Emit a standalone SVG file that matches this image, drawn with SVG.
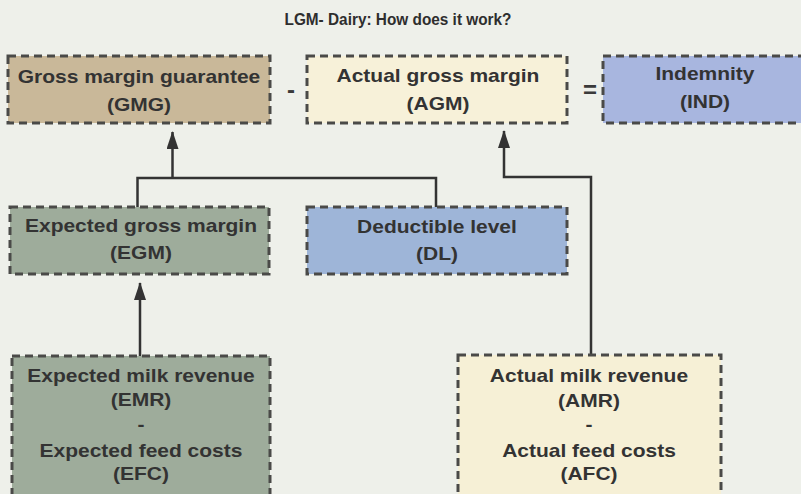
<svg xmlns="http://www.w3.org/2000/svg" width="801" height="494" viewBox="0 0 801 494">
<style>
.bg{fill:#eef0ea}
.box{stroke:#4a4a48;stroke-width:3;stroke-dasharray:8 5}
.t{font-family:"Liberation Sans",Arial,Helvetica,sans-serif;font-weight:bold;font-size:17.5px;fill:#333;text-anchor:middle;transform-box:fill-box;transform-origin:center;transform:scaleX(1.2)}
.op{font-family:"Liberation Sans",Arial,sans-serif;font-weight:bold;font-size:24px;fill:#3a3a3a;text-anchor:middle}
.title{font-family:"Liberation Sans",Arial,sans-serif;font-weight:bold;font-size:17px;fill:#2e2e2e;text-anchor:middle}
.con{fill:none;stroke:#333;stroke-width:2.5}
</style>
<defs>
<marker id="ah" viewBox="0 0 18 12" refX="17" refY="6" markerUnits="userSpaceOnUse" markerWidth="18" markerHeight="12" orient="auto">
<path d="M0,0 L18,6 L0,12 Z" fill="#333"/>
</marker>
</defs>
<rect class="bg" x="0" y="0" width="801" height="494"/>
<text class="title" x="398" y="25" textLength="227" lengthAdjust="spacingAndGlyphs">LGM- Dairy: How does it work?</text>

<g id="connectors">
<polyline class="con" points="137.5,207 137.5,178 436,178 436,207"/>
<line class="con" x1="172.5" y1="178" x2="172.5" y2="132" marker-end="url(#ah)"/>
<polyline class="con" points="591,355 591,177 504,177 504,131" marker-end="url(#ah)"/>
<line class="con" x1="140" y1="356" x2="140" y2="283" marker-end="url(#ah)"/>
</g>

<g id="gmg">
<rect class="box" x="8" y="56" width="262" height="67" fill="#c9b899"/>
<text class="t" x="139" y="83">Gross margin guarantee</text>
<text class="t" x="139" y="111">(GMG)</text>
</g>
<text class="op" x="291" y="98">-</text>
<g id="agm">
<rect class="box" x="307" y="56" width="260" height="67" fill="#f7f1d9"/>
<text class="t" x="438" y="82">Actual gross margin</text>
<text class="t" x="438" y="110">(AGM)</text>
</g>
<text class="op" x="590" y="98">=</text>
<g id="ind">
<rect class="box" x="603" y="56" width="206" height="67" fill="#a8b6df"/>
<text class="t" x="705" y="80">Indemnity</text>
<text class="t" x="705" y="108">(IND)</text>
</g>
<g id="egm">
<rect class="box" x="10" y="207" width="259" height="67" fill="#9eac9b"/>
<text class="t" x="141" y="232">Expected gross margin</text>
<text class="t" x="141" y="259">(EGM)</text>
</g>
<g id="dl">
<rect class="box" x="307" y="207" width="260" height="67" fill="#9eb5d8"/>
<text class="t" x="437" y="233">Deductible level</text>
<text class="t" x="437" y="260">(DL)</text>
</g>
<g id="emr">
<rect class="box" x="12" y="356" width="258" height="150" fill="#9eac9b"/>
<text class="t" x="141" y="382">Expected milk revenue</text>
<text class="t" x="141" y="406">(EMR)</text>
<text class="t" x="141" y="431">-</text>
<text class="t" x="141" y="457">Expected feed costs</text>
<text class="t" x="141" y="480">(EFC)</text>
</g>
<g id="amr">
<rect class="box" x="458" y="355" width="263" height="150" fill="#f6f0d6"/>
<text class="t" x="589" y="382">Actual milk revenue</text>
<text class="t" x="589" y="407">(AMR)</text>
<text class="t" x="589" y="431">-</text>
<text class="t" x="589" y="457">Actual feed costs</text>
<text class="t" x="589" y="480">(AFC)</text>
</g>
</svg>
